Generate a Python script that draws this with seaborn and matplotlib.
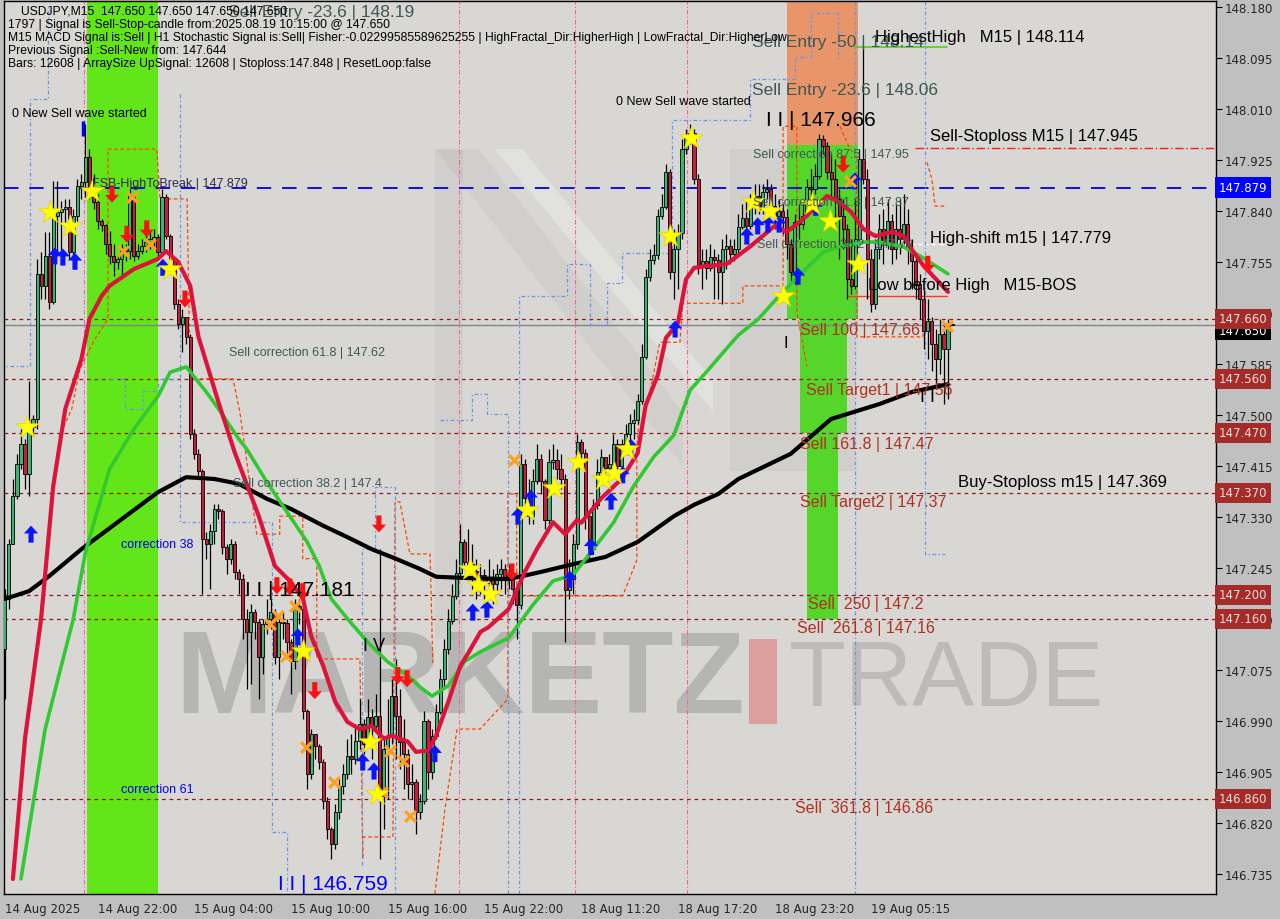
import numpy as np
import matplotlib
matplotlib.use("Agg")
import matplotlib.pyplot as plt
import matplotlib.transforms as mtransforms
from matplotlib.patches import Rectangle, Polygon
from matplotlib.path import Path
import seaborn as sns

# ---- candles (USDJPY M15), open = previous close ----
first_open = 147.110
close_p = [147.193, 147.285, 147.365, 147.418, 147.451, 147.401, 147.480, 147.493, 147.735, 147.715,
           147.765, 147.688, 147.831, 147.838, 147.843, 147.846, 147.771, 147.831, 147.881, 147.888,
           147.930, 147.863, 147.855, 147.823, 147.816, 147.785, 147.765, 147.755, 147.760, 147.776,
           147.773, 147.865, 147.765, 147.773, 147.781, 147.788, 147.793, 147.796, 147.771, 147.863,
           147.798, 147.760, 147.685, 147.651, 147.663, 147.630, 147.468, 147.435, 147.406, 147.293,
           147.285, 147.306, 147.343, 147.340, 147.280, 147.260, 147.285, 147.238, 147.226, 147.160,
           147.138, 147.171, 147.155, 147.096, 147.151, 147.160, 147.171, 147.096, 147.155, 147.153,
           147.121, 147.090, 147.181, 147.176, 147.006, 146.901, 146.968, 146.948, 146.921, 146.856,
           146.810, 146.785, 146.838, 146.881, 146.901, 146.931, 146.926, 146.956, 146.985, 146.951,
           146.996, 146.981, 146.998, 146.865, 146.943, 146.965, 147.031, 146.998, 146.955, 146.935,
           146.885, 146.888, 146.838, 146.856, 146.990, 146.905, 146.965, 147.005, 147.060, 147.110,
           147.156, 147.198, 147.236, 147.288, 147.255, 147.251, 147.240, 147.226, 147.233, 147.220,
           147.230, 147.218, 147.235, 147.243, 147.226, 147.235, 147.210, 147.183, 147.418, 147.361,
           147.331, 147.390, 147.426, 147.390, 147.325, 147.421, 147.425, 147.410, 147.393, 147.208,
           147.226, 147.285, 147.455, 147.436, 147.331, 147.276, 147.350, 147.405, 147.430, 147.411,
           147.418, 147.451, 147.415, 147.451, 147.468, 147.486, 147.491, 147.523, 147.596, 147.730,
           147.758, 147.766, 147.831, 147.846, 147.905, 147.738, 147.776, 147.803, 147.943, 147.961,
           147.970, 147.893, 147.748, 147.756, 147.745, 147.763, 147.758, 147.738, 147.776, 147.781,
           147.768, 147.776, 147.813, 147.828, 147.815, 147.855, 147.865, 147.843, 147.871, 147.876,
           147.848, 147.831, 147.840, 147.830, 147.785, 147.738, 147.821, 147.818, 147.831, 147.880,
           147.876, 147.898, 147.960, 147.948, 147.905, 147.893, 147.860, 147.831, 147.810, 147.726,
           147.715, 147.793, 147.926, 147.893, 147.760, 147.685, 147.776, 147.810, 147.785, 147.823,
           147.776, 147.810, 147.793, 147.818, 147.776, 147.756, 147.718, 147.693, 147.640, 147.656,
           147.618, 147.593, 147.635, 147.610, 147.651, 147.650]
high_p = [147.210, 147.293, 147.393, 147.435, 147.476, 147.460, 147.556, 147.500, 147.760, 147.771,
          147.805, 147.805, 147.890, 147.890, 147.856, 147.860, 147.860, 147.843, 147.893, 147.901,
          147.985, 147.943, 147.901, 147.868, 147.826, 147.818, 147.806, 147.785, 147.768, 147.785,
          147.785, 147.876, 147.868, 147.785, 147.793, 147.801, 147.806, 147.810, 147.801, 147.876,
          147.868, 147.801, 147.760, 147.693, 147.676, 147.663, 147.635, 147.476, 147.443, 147.410,
          147.305, 147.318, 147.351, 147.351, 147.343, 147.285, 147.293, 147.290, 147.243, 147.235,
          147.176, 147.185, 147.176, 147.160, 147.160, 147.193, 147.193, 147.176, 147.168, 147.173,
          147.160, 147.126, 147.193, 147.193, 147.185, 147.010, 146.976, 146.968, 146.951, 146.926,
          146.863, 146.813, 146.851, 146.893, 146.918, 146.960, 146.968, 146.985, 147.026, 146.993,
          147.026, 147.010, 147.035, 147.276, 146.960, 147.026, 147.060, 147.093, 147.043, 146.993,
          146.943, 146.918, 146.893, 146.868, 147.006, 146.993, 146.976, 147.018, 147.076, 147.126,
          147.176, 147.218, 147.260, 147.318, 147.293, 147.310, 147.285, 147.260, 147.251, 147.243,
          147.260, 147.243, 147.251, 147.260, 147.251, 147.251, 147.243, 147.218, 147.435, 147.426,
          147.393, 147.410, 147.451, 147.435, 147.393, 147.443, 147.451, 147.443, 147.435, 147.401,
          147.260, 147.301, 147.468, 147.460, 147.443, 147.335, 147.360, 147.426, 147.443, 147.426,
          147.435, 147.468, 147.460, 147.460, 147.485, 147.501, 147.510, 147.535, 147.618, 147.743,
          147.776, 147.785, 147.843, 147.868, 147.918, 147.910, 147.810, 147.818, 147.960, 147.976,
          147.985, 147.976, 147.901, 147.776, 147.776, 147.785, 147.776, 147.768, 147.793, 147.801,
          147.793, 147.793, 147.835, 147.851, 147.860, 147.868, 147.885, 147.885, 147.885, 147.893,
          147.885, 147.868, 147.860, 147.851, 147.843, 147.793, 147.835, 147.851, 147.851, 147.893,
          147.910, 147.918, 147.968, 147.966, 147.955, 147.935, 147.926, 147.876, 147.860, 147.818,
          147.793, 147.860, 147.943, 148.114, 147.910, 147.776, 147.793, 147.835, 147.843, 147.860,
          147.835, 147.851, 147.860, 147.868, 147.843, 147.793, 147.768, 147.735, 147.710, 147.693,
          147.663, 147.643, 147.660, 147.651, 147.660, 147.650]
low_p = [147.026, 147.176, 147.285, 147.360, 147.410, 147.376, 147.365, 147.465, 147.476, 147.693,
         147.693, 147.676, 147.685, 147.771, 147.771, 147.818, 147.760, 147.763, 147.823, 147.860,
         147.863, 147.860, 147.843, 147.810, 147.806, 147.768, 147.751, 147.731, 147.743, 147.731,
         147.756, 147.760, 147.756, 147.760, 147.768, 147.771, 147.776, 147.780, 147.763, 147.768,
         147.793, 147.751, 147.676, 147.643, 147.605, 147.618, 147.460, 147.426, 147.396, 147.201,
         147.260, 147.210, 147.285, 147.326, 147.268, 147.235, 147.251, 147.226, 147.201, 147.126,
         147.043, 147.051, 147.126, 147.026, 147.068, 147.135, 147.143, 147.085, 147.060, 147.126,
         147.093, 147.035, 147.076, 147.151, 146.993, 146.876, 146.893, 146.926, 146.910, 146.843,
         146.793, 146.760, 146.776, 146.826, 146.868, 146.893, 146.901, 146.918, 146.943, 146.935,
         146.960, 146.926, 146.976, 146.759, 146.810, 146.860, 146.951, 146.926, 146.910, 146.876,
         146.860, 146.860, 146.801, 146.826, 146.851, 146.876, 146.893, 146.960, 147.001, 147.043,
         147.101, 147.151, 147.193, 147.226, 147.243, 147.226, 147.210, 147.193, 147.201, 147.193,
         147.201, 147.185, 147.201, 147.210, 147.201, 147.210, 147.185, 147.126, 147.176, 147.351,
         147.318, 147.318, 147.385, 147.368, 147.310, 147.318, 147.410, 147.393, 147.376, 147.121,
         147.193, 147.201, 147.276, 147.426, 147.310, 147.260, 147.268, 147.343, 147.393, 147.401,
         147.401, 147.410, 147.401, 147.410, 147.435, 147.451, 147.460, 147.485, 147.518, 147.593,
         147.723, 147.751, 147.760, 147.826, 147.843, 147.726, 147.693, 147.710, 147.793, 147.935,
         147.951, 147.885, 147.735, 147.710, 147.726, 147.740, 147.693, 147.693, 147.685, 147.743,
         147.751, 147.756, 147.768, 147.810, 147.793, 147.810, 147.835, 147.835, 147.835, 147.860,
         147.835, 147.810, 147.818, 147.801, 147.760, 147.723, 147.718, 147.793, 147.810, 147.843,
         147.860, 147.868, 147.893, 147.935, 147.893, 147.860, 147.810, 147.760, 147.776, 147.693,
         147.701, 147.710, 147.785, 147.885, 147.693, 147.671, 147.676, 147.760, 147.751, 147.776,
         147.751, 147.760, 147.768, 147.785, 147.751, 147.710, 147.693, 147.660, 147.610, 147.593,
         147.573, 147.548, 147.568, 147.518, 147.526, 147.650]

# ---- moving averages (bar index, price) ----
red_ma_x = [2, 5, 9, 12, 15, 19, 21, 24, 26, 32, 38, 40, 43, 46, 48, 53, 57, 63, 67, 71, 74, 76, 79,
            82, 85, 88, 91, 94, 96, 100, 102, 105, 107, 110, 113, 115, 118, 120, 125, 129, 132, 136,
            139, 142, 143, 148, 153, 157, 159, 162, 164, 167, 169, 171, 174, 179, 182, 185, 191, 194,
            198, 204, 207, 210, 213, 216, 220, 223, 225, 228, 234]
red_ma_y = [146.726, 146.960, 147.160, 147.381, 147.510, 147.593, 147.660, 147.698, 147.715, 147.743,
            147.760, 147.773, 147.755, 147.715, 147.631, 147.521, 147.438, 147.331, 147.248, 147.221,
            147.193, 147.131, 147.081, 147.021, 146.988, 146.976, 146.981, 146.960, 146.965, 146.955,
            146.938, 146.940, 146.965, 147.021, 147.081, 147.103, 147.138, 147.146, 147.176, 147.238,
            147.276, 147.321, 147.301, 147.325, 147.320, 147.361, 147.393, 147.436, 147.516, 147.566,
            147.628, 147.653, 147.726, 147.745, 147.748, 147.751, 147.766, 147.781, 147.815, 147.805,
            147.826, 147.865, 147.855, 147.838, 147.810, 147.798, 147.805, 147.798, 147.776, 147.748,
            147.705]
green_ma_x = [4, 10, 17, 20, 26, 32, 38, 41, 45, 50, 53, 58, 60, 65, 70, 75, 78, 81, 85, 90, 95, 100,
              103, 106, 110, 114, 118, 125, 131, 136, 141, 146, 151, 156, 161, 166, 170, 174, 179,
              182, 187, 193, 198, 203, 207, 213, 217, 223, 227, 234]
green_ma_y = [146.726, 146.976, 147.160, 147.271, 147.410, 147.476, 147.531, 147.571, 147.580, 147.538,
              147.510, 147.460, 147.443, 147.388, 147.338, 147.288, 147.248, 147.193, 147.160, 147.121,
              147.088, 147.065, 147.046, 147.031, 147.048, 147.088, 147.105, 147.128, 147.183, 147.223,
              147.233, 147.276, 147.320, 147.381, 147.430, 147.466, 147.541, 147.571, 147.610, 147.633,
              147.660, 147.705, 147.738, 147.771, 147.780, 147.788, 147.788, 147.780, 147.765, 147.735]
black_ma_x = [0, 6, 11, 19, 28, 38, 45, 52, 58, 65, 71, 79, 85, 91, 97, 103, 107, 114, 125, 133, 141,
              149, 157, 166, 171, 177, 182, 195, 205, 217, 225, 234]
black_ma_y = [147.193, 147.206, 147.231, 147.276, 147.321, 147.371, 147.396, 147.393, 147.385, 147.360,
              147.343, 147.315, 147.296, 147.276, 147.260, 147.243, 147.230, 147.228, 147.226, 147.238,
              147.251, 147.263, 147.288, 147.331, 147.350, 147.368, 147.393, 147.435, 147.493, 147.518,
              147.538, 147.551]

# ---- dashed channel lines (None = gap) ----
orange_x = [8.7, 11.9, 13.6, 16.6, 18.6, 22.3, 25.6, 25.6, 37.7, 38.5, 45.2, 45.9, 46.7, 56.6, 58.3,
            59.6, 62.5, 68.2, 68.2, 73.9, 73.9, 77.4, 77.4, 88.1, 88.8, 88.8, 96.3, 96.8, 98.0, 100.5,
            105.5, 106.2, None,
            106.7, 109.2, 112.2, 117.9, 124.8, 124.8, 127.0, 127.0, 153.3, 156.8, 156.8, 157.6, 159.6,
            162.5, 167.5, 168.2, 183.1, 183.1, 193.1, 193.1, 196.5, 196.5, 199.0, None,
            207.2, 209.7, 211.4, 211.4, 227.8, 227.8, None,
            228.8, 230.0, 230.8, 233.7]
orange_y = [147.160, 147.376, 147.465, 147.510, 147.576, 147.626, 147.660, 147.943, 147.943, 147.860,
            147.860, 147.605, 147.560, 147.560, 147.505, 147.443, 147.301, 147.301, 147.331, 147.331,
            147.260, 147.260, 147.093, 147.093, 146.760, 146.796, 146.796, 147.355, 147.355, 147.268,
            147.268, 147.081, None,
            146.701, 146.843, 146.976, 146.976, 147.026, 147.368, 147.368, 147.198, 147.198, 147.258,
            147.443, 147.523, 147.523, 147.621, 147.621, 147.686, 147.686, 147.715, 147.715, 147.981,
            147.981, 147.671, 147.581, None,
            147.981, 147.943, 147.931, 147.630, 147.630, 147.663, None,
            147.921, 147.893, 147.848, 147.848]
blue_x = [-1.2, 6.2, 6.2, 10.7, 10.7, None,
          26.1, 29.8, 29.8, 34.2, 34.2, 38.0, 38.0, 43.4, None,
          43.4, 43.4, 66.3, 66.3, 70.0, 70.0, None,
          88.6, 88.6, 91.8, 91.8, 96.8, 96.8, None,
          108.0, 115.9, 115.9, 119.6, 119.6, 124.8, 124.8, None,
          127.5, 127.5, 139.5, 139.5, 145.2, 145.2, 149.4, 149.4, 153.1, 153.1, 165.5, 165.5, 185.0,
          185.0, 196.0, 196.0, 200.0, 200.0, 206.7, 206.7, None,
          210.9, 210.9, None,
          228.3, 228.3, 233.2]
blue_y = [147.581, 147.581, 148.026, 148.026, 148.185, None,
          147.560, 147.560, 147.510, 147.510, 147.540, 147.540, 147.560, 147.560, None,
          148.035, 147.321, 147.321, 146.805, 146.805, 146.701, None,
          146.750, 147.276, 147.276, 147.380, 147.380, 146.701, None,
          147.491, 147.491, 147.535, 147.535, 147.501, 147.501, 146.701, None,
          146.701, 147.698, 147.698, 147.751, 147.751, 147.650, 147.650, 147.720, 147.720, 147.770,
          147.770, 147.991, 147.991, 148.060, 148.060, 148.096, 148.096, 148.170, 148.170, 148.093, None,
          148.190, 146.701, None,
          148.190, 147.268, 147.268]

# ---- signal markers (bar index, price) ----
star_x = [5.5, 11.2, 16.1, 21.6, 40.9, 73.9, 90.6, 92.3, 115.4, 117.4, 120.3, 129.5, 136.2, 142.2,
          148.4, 151.1, 154.3, 165.0, 170.2, 185.6, 189.8, 193.1, 200.2, 204.7, 211.7]
star_y = [147.480, 147.838, 147.815, 147.873, 147.743, 147.106, 146.955, 146.868, 147.243, 147.216,
          147.201, 147.341, 147.378, 147.421, 147.393, 147.403, 147.443, 147.798, 147.961, 147.855,
          147.840, 147.698, 147.851, 147.823, 147.751]
cross_x = [31.5, 29.3, 36.0, 65.8, 67.7, 72.0, 69.7, 74.7, 81.6, 93.5, 95.5, 98.8, 100.5, 126.3,
           209.7, 233.7]
cross_y = [147.863, 147.773, 147.785, 147.151, 147.165, 147.181, 147.098, 146.946, 146.888, 146.871,
           146.940, 146.923, 146.831, 147.425, 147.890, 147.648]
buy_x = [6.5, 12.4, 14.4, 17.4, 39.2, 72.7, 88.8, 91.6, 106.7, 116.1, 119.6, 127.3, 130.5, 140.2,
         145.4, 150.4, 153.3, 155.3, 166.3, 184.1, 186.8, 189.3, 192.1, 196.8, 201.2, 210.9]
buy_y = [147.301, 147.765, 147.763, 147.756, 147.746, 147.130, 146.921, 146.906, 146.935, 147.171,
         147.176, 147.331, 147.361, 147.226, 147.280, 147.356, 147.400, 147.446, 147.643, 147.798,
         147.815, 147.818, 147.818, 147.731, 147.846, 147.890]
sell_x = [26.6, 30.3, 35.2, 44.7, 92.8, 67.5, 70.7, 73.9, 76.9, 97.5, 99.8, 125.8, 208.0, 229.0]
sell_y = [147.868, 147.801, 147.810, 147.693, 147.318, 147.215, 147.213, 147.205, 147.040, 147.065,
          147.060, 147.238, 147.918, 147.751]

# ---- levels ----
level_prices = [147.66, 147.56, 147.47, 147.37, 147.20, 147.16, 146.86]
box_prices = [147.660, 147.560, 147.470, 147.370, 147.200, 147.160, 146.860]
fsb_price = 147.879
bid_price = 147.650
sell_sl_price = 147.945
highest_high = 148.114
low_before_high = 147.698
high_shift = 147.785

price_ticks = [148.180, 148.095, 148.010, 147.925, 147.840, 147.755, 147.670, 147.585, 147.500,
               147.415, 147.330, 147.245, 147.160, 147.075, 146.990, 146.905, 146.820, 146.735]
time_ticks = [0, 23, 47, 71, 95, 119, 143, 167, 191, 215]
time_labels = ["14 Aug 2025", "14 Aug 22:00", "15 Aug 04:00", "15 Aug 10:00", "15 Aug 16:00",
               "15 Aug 22:00", "18 Aug 11:20", "18 Aug 17:20", "18 Aug 23:20", "19 Aug 05:15"]
session_lines = [19.6, 112.7, 141.4, 169.2]

header = ["USDJPY,M15  147.650 147.650 147.650 147.650",
          "1797 | Signal is Sell-Stop-candle from:2025.08.19 10:15:00 @ 147.650",
          "M15 MACD Signal is:Sell | H1 Stochastic Signal is:Sell| Fisher:-0.02299585589625255 | "
          "HighFractal_Dir:HigherHigh | LowFractal_Dir:HigherLow",
          "Previous Signal :Sell-New from: 147.644",
          "Bars: 12608 | ArraySize UpSignal: 12608 | Stoploss:147.848 | ResetLoop:false"]


def nanlist(v):
    return np.array([np.nan if a is None else a for a in v], dtype=float)


sns.set_style("white", {"axes.facecolor": "#d8d7d3", "figure.facecolor": "#c0c0c0"})
plt.rcParams["font.family"] = ["Liberation Sans", "DejaVu Sans"]

fig = plt.figure(figsize=(12.8, 9.2), dpi=100)
ax = fig.add_axes([0.003, 0.0272, 0.947, 0.9706])
ax.set_xlim(-0.25, 300.5)
ax.set_ylim(146.701, 148.190)

# faint background logo
logo_dark = [
    [(0.356, 0.834), (0.379, 0.834), (0.379, 0.285), (0.356, 0.285)],
    [(0.356, 0.834), (0.392, 0.834), (0.560, 0.540), (0.560, 0.480)],
    [(0.599, 0.834), (0.702, 0.834), (0.702, 0.474), (0.599, 0.474)],
]
for poly in logo_dark:
    ax.add_patch(Polygon(poly, closed=True, transform=ax.transAxes, color="black",
                         alpha=0.035, lw=0, zorder=0.4))
ax.add_patch(Polygon([(0.405, 0.834), (0.428, 0.834), (0.585, 0.575), (0.585, 0.540)],
                     closed=True, transform=ax.transAxes, color="white", alpha=0.25, lw=0, zorder=0.4))

# zones
ax.add_patch(Rectangle((20.3, 146.6), 17.7, 1.7, color="#63e619", lw=0, zorder=0.5))
ax.add_patch(Rectangle((194.0, 147.95), 17.7, 0.3, color="#e8956a", lw=0, zorder=0.5))
ax.add_patch(Rectangle((194.0, 147.66), 17.7, 0.29, color="#55d62a", lw=0, zorder=0.5))
ax.add_patch(Rectangle((197.3, 147.47), 11.6, 0.19, color="#55d62a", lw=0, zorder=0.5))
ax.add_patch(Rectangle((199.0, 147.16), 7.7, 0.31, color="#55d62a", lw=0, zorder=0.5))

# watermark
ax.text(0.141, 0.2385, "MARKETZ", transform=ax.transAxes, fontsize=84, fontweight="bold",
        color="#8c8c8c", alpha=0.45, va="center", ha="left", zorder=0.6)
ax.add_patch(Rectangle((0.615, 0.19), 0.023, 0.096, transform=ax.transAxes,
                       color="#e07a7a", alpha=0.6, lw=0, zorder=0.6))
ax.text(0.648, 0.2385, "TRADE", transform=ax.transAxes, fontsize=67,
        color="#9a9a9a", alpha=0.45, va="center", ha="left", zorder=0.6)

# session separators
for s in session_lines:
    ax.axvline(s, color="#ff5aa5", lw=0.8, ls=(0, (4, 2, 1, 2)), zorder=1)

# levels
for p in level_prices:
    ax.axhline(p, color="#8b1a1a", lw=0.9, ls=(0, (3, 3)), zorder=1)
ax.axhline(bid_price, color="#7d8590", lw=1.0, zorder=1)
ax.axhline(fsb_price, color="#0000e0", lw=1.3, ls=(0, (8, 6)), zorder=1.2)
ax.plot([225.8, 300.5], [sell_sl_price] * 2, color="#ff1a1a", lw=1.0, ls=(0, (6, 2, 1, 2)), zorder=1)
ax.plot([210.9, 233.7], [highest_high] * 2, color="#55cc22", lw=1.2, zorder=1)
ax.plot([209.0, 233.7], [low_before_high] * 2, color="#ff3a1a", lw=1.0, zorder=1)
ax.plot([223.0, 234.0], [high_shift] * 2, color="white", lw=1.0, ls=(0, (3, 2)), zorder=1)

ax.plot(nanlist(orange_x), nanlist(orange_y), color="#ff4500", lw=0.9, ls=(0, (3, 2)), zorder=1.5)
ax.plot(nanlist(blue_x), nanlist(blue_y), color="#6495ed", lw=0.9, ls=(0, (3, 2, 1, 2)), zorder=1.5)
ax.vlines(19.4, 147.965, 147.99, color="#0000ff", lw=2.5, zorder=2)

# candles
c = np.array(close_p)
o = np.r_[first_open, c[:-1]]
h = np.maximum(np.array(high_p), np.maximum(o, c))
l = np.minimum(np.array(low_p), np.minimum(o, c))
idx = np.arange(len(c))
up = c >= o
ax.vlines(idx, l, h, color="black", lw=0.9, zorder=3)
bot = np.minimum(o, c)
hgt = np.maximum(np.abs(c - o), 0.0012)
ax.bar(idx[up], hgt[up], bottom=bot[up], width=0.78, color="#3cb371", edgecolor="black", lw=0.6, zorder=3.1)
ax.bar(idx[~up], hgt[~up], bottom=bot[~up], width=0.78, color="#c41e3a", edgecolor="black", lw=0.6, zorder=3.1)

# moving averages
sns.lineplot(x=black_ma_x, y=black_ma_y, ax=ax, color="black", lw=3, zorder=4)
sns.lineplot(x=green_ma_x, y=green_ma_y, ax=ax, color="#32c832", lw=2.6, zorder=4.1)
sns.lineplot(x=red_ma_x, y=red_ma_y, ax=ax, color="#dc143c", lw=3, zorder=4.2)

# markers
up_arrow = Path([(-0.5, 0.05), (0, 0.6), (0.5, 0.05), (0.18, 0.05), (0.18, -0.6), (-0.18, -0.6),
                 (-0.18, 0.05), (-0.5, 0.05)], closed=True)
dn_arrow = Path([(x, -y) for x, y in up_arrow.vertices], closed=True)
sns.scatterplot(x=buy_x, y=buy_y, ax=ax, marker=up_arrow, s=150, color="#0a14ff", edgecolor="none", zorder=5)
sns.scatterplot(x=sell_x, y=sell_y, ax=ax, marker=dn_arrow, s=150, color="#ff1010", edgecolor="none", zorder=5)
sns.scatterplot(x=cross_x, y=cross_y, ax=ax, marker="x", s=60, color="#ffa020", linewidth=2.4, zorder=5)
sns.scatterplot(x=star_x, y=star_y, ax=ax, marker="*", s=300, color="#ffff00", edgecolor="#e6d200",
                linewidth=0.5, zorder=5.1)

# chart labels
slate = "#3f5757"
brown = "#b03020"
labels = [
    (55.3, 148.173, "Sell Entry -23.6 | 148.19", slate, 12.5),
    (1.7, 148.003, "0 New Sell wave started", "black", 9),
    (151.6, 148.023, "0 New Sell wave started", "black", 9),
    (21.6, 147.886, "FSB-HighToBreak | 147.879", "#2f2a45", 9),
    (55.6, 147.605, "Sell correction 61.8 | 147.62", slate, 9),
    (56.6, 147.386, "Sell correction 38.2 | 147.4", slate, 9),
    (28.8, 147.285, "correction 38", "#0000ee", 9),
    (28.8, 146.876, "correction 61", "#0000ee", 9),
    (59.6, 147.208, "I I | 147.181", "black", 15),
    (88.8, 147.115, "I V", "black", 13),
    (67.7, 146.718, "I I | 146.759", "#0000ff", 15),
    (185.4, 148.123, "Sell Entry -50 | 148.14", slate, 12.5),
    (215.9, 148.131, "HighestHigh   M15 | 148.114", "black", 12),
    (185.4, 148.043, "Sell Entry -23.6 | 148.06", slate, 12.5),
    (188.8, 147.993, "I I | 147.966", "black", 15),
    (229.5, 147.965, "Sell-Stoploss M15 | 147.945", "black", 12),
    (185.6, 147.935, "Sell correction 87.5 | 147.95", slate, 9),
    (185.6, 147.855, "Sell correction 61.8 | 147.87", slate, 9),
    (186.6, 147.785, "Sell correction 38.2 | 147.79", slate, 9),
    (229.5, 147.796, "High-shift m15 | 147.779", "black", 12),
    (214.1, 147.718, "Low before High   M15-BOS", "black", 12),
    (197.3, 147.643, "Sell 100 | 147.66", brown, 11.5),
    (193.1, 147.620, "I", "black", 12),
    (198.8, 147.543, "Sell Target1 | 147.56", brown, 11.5),
    (197.3, 147.453, "Sell 161.8 | 147.47", brown, 11.5),
    (236.5, 147.388, "Buy-Stoploss m15 | 147.369", "black", 12),
    (197.3, 147.355, "Sell Target2 | 147.37", brown, 11.5),
    (199.3, 147.185, "Sell  250 | 147.2", brown, 11.5),
    (196.5, 147.146, "Sell  261.8 | 147.16", brown, 11.5),
    (196.0, 146.845, "Sell  361.8 | 146.86", brown, 11.5),
    (227.0, 147.530, "I I", "black", 13),
]
for x, y, t, col, fs in labels:
    ax.text(x, y, t, color=col, fontsize=fs, va="center", ha="left", zorder=6)

for k, line in enumerate(header):
    x0 = 21 if k == 0 else 8
    fig.text(x0 / 1280, 1 - (12 + 13 * k) / 920, line, fontsize=8.7, color="black",
             va="center", ha="left", zorder=7)

# axes styling
for sp in ax.spines.values():
    sp.set_color("black")
    sp.set_linewidth(1.0)
ax.yaxis.tick_right()
ax.set_yticks(price_ticks)
ax.set_yticklabels([f"{p:.3f}" for p in price_ticks], fontsize=8.5, family="DejaVu Sans")
ax.set_xticks(time_ticks)
ax.set_xticklabels(time_labels, fontsize=8.5, family="DejaVu Sans", ha="left")
ax.tick_params(axis="both", direction="out", length=4, width=0.8, color="black", pad=2)
ax.set_xlabel("")
ax.set_ylabel("")
if ax.get_legend():
    ax.get_legend().remove()

trans = mtransforms.blended_transform_factory(ax.transAxes, ax.transData)
boxes = [(p, "#a52a2a", "#f3e3d8") for p in box_prices] + [(fsb_price, "#0000ff", "white")]
for p, fc, tc in boxes:
    ax.text(1.0025, p, f"{p:.3f}", transform=trans, fontsize=8.5, family="DejaVu Sans", color=tc,
            va="center", ha="left", clip_on=False, zorder=8,
            bbox=dict(boxstyle="square,pad=0.3", fc=fc, ec="none"))
ax.text(1.0025, bid_price - 0.009, f"{bid_price:.3f}", transform=trans, fontsize=8.5,
        family="DejaVu Sans", color="white", va="center", ha="left", clip_on=False, zorder=7.5,
        bbox=dict(boxstyle="square,pad=0.3", fc="black", ec="none"))

fig.savefig("out.png", dpi=100, facecolor=fig.get_facecolor())
